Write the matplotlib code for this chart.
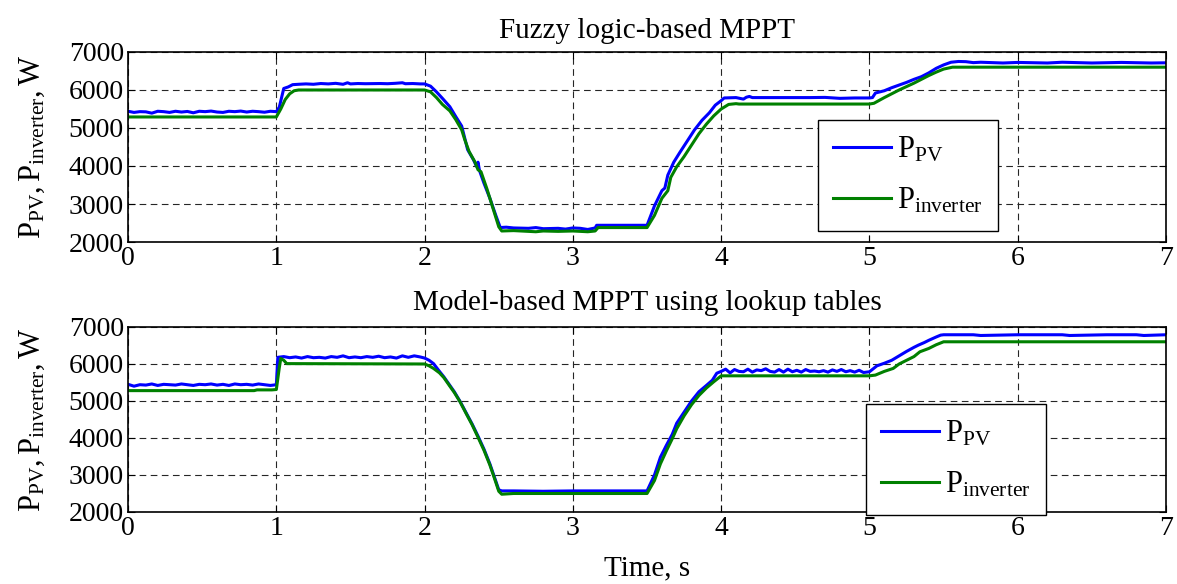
"""Fuzzy vs. model-based MPPT: PV and inverter power traces."""
import matplotlib
matplotlib.use("Agg")
import matplotlib.pyplot as plt

# ---- top panel: fuzzy logic-based MPPT -------------------------------------
t_fz_pv = [0.00, 0.04, 0.08, 0.12, 0.16, 0.20, 0.24, 0.28, 0.32, 0.36, 0.40, 0.44, 0.48,
           0.52, 0.56, 0.60, 0.64, 0.68, 0.72, 0.76, 0.80, 0.84, 0.88, 0.92, 0.96, 1.00,
           1.02, 1.05, 1.08, 1.11, 1.15, 1.20, 1.25, 1.30, 1.35, 1.40, 1.45, 1.48, 1.50,
           1.55, 1.60, 1.70, 1.75, 1.80, 1.85, 1.87, 1.92, 1.97, 2.00,
           2.04, 2.08, 2.12, 2.17, 2.21, 2.25, 2.29, 2.33, 2.35, 2.36, 2.37, 2.40, 2.44,
           2.48, 2.51, 2.55, 2.60, 2.70, 2.75, 2.80, 2.90, 2.95, 3.00, 3.05, 3.10, 3.15,
           3.16, 3.30, 3.50, 3.55, 3.60, 3.62, 3.64, 3.68, 3.72, 3.77, 3.82, 3.87, 3.92,
           3.96, 4.00, 4.02, 4.10, 4.15, 4.17, 4.19, 4.21, 4.40, 4.60, 4.70, 4.80, 4.90,
           5.00, 5.02, 5.04, 5.10, 5.15, 5.20, 5.25, 5.30, 5.35, 5.40, 5.45, 5.50, 5.55,
           5.60, 5.65, 5.70, 5.75, 5.90, 6.00, 6.20, 6.30, 6.50, 6.70, 6.90, 7.00]
p_fz_pv = [5440, 5410, 5430, 5425, 5390, 5440, 5430, 5410, 5440, 5420, 5435, 5400, 5440,
           5430, 5445, 5420, 5410, 5440, 5430, 5445, 5420, 5440, 5430, 5415, 5440, 5430,
           5550, 6040, 6080, 6140, 6150, 6160, 6150, 6170, 6160, 6175, 6150, 6190, 6160,
           6170, 6165, 6170, 6165, 6175, 6190, 6165, 6170, 6160, 6160,
           6100, 5950, 5780, 5560, 5300, 5050, 4430, 4160, 3990, 4100, 3880, 3550, 3150,
           2700, 2380, 2390, 2370, 2360, 2380, 2350, 2360, 2340, 2370, 2360, 2330, 2370,
           2440, 2440, 2440, 2950, 3350, 3420, 3760, 4100, 4350, 4650, 4950, 5200, 5400,
           5600, 5720, 5790, 5800, 5760, 5810, 5830, 5800, 5800, 5800, 5805, 5780, 5790,
           5790, 5800, 5920, 5980, 6060, 6130, 6200, 6280, 6350, 6450, 6570, 6660, 6730,
           6750, 6745, 6720, 6730, 6710, 6725, 6710, 6730, 6710, 6725, 6710, 6715]

t_fz_inv = [0.00, 1.00, 1.03, 1.06, 1.09, 1.12, 1.15, 2.00, 2.04, 2.08, 2.12, 2.17, 2.21,
            2.25, 2.27, 2.30, 2.34, 2.36, 2.38, 2.42, 2.46, 2.50, 2.52, 2.60, 2.70, 2.75,
            2.80, 2.90, 3.00, 3.10, 3.15, 3.17, 3.50, 3.55, 3.60, 3.64, 3.66, 3.70, 3.75,
            3.80, 3.85, 3.90, 3.95, 4.00, 4.05, 4.10, 4.12, 5.00, 5.03, 5.10, 5.20, 5.30,
            5.40, 5.45, 5.50, 5.56, 7.00]
p_fz_inv = [5290, 5290, 5500, 5750, 5900, 5980, 6000, 6000, 5950, 5800, 5620, 5450, 5220,
            4950, 4700, 4380, 4100, 3900, 3850, 3400, 2900, 2400, 2290, 2300, 2280, 2270,
            2290, 2280, 2290, 2270, 2290, 2380, 2380, 2700, 3150, 3350, 3700, 3980, 4250,
            4550, 4850, 5100, 5320, 5500, 5620, 5640, 5630, 5630, 5650, 5800, 6000, 6180,
            6380, 6470, 6550, 6600, 6600]

# ---- bottom panel: model-based MPPT using lookup tables -------------------
t_mb_pv = [0.00, 0.04, 0.08, 0.12, 0.16, 0.20, 0.24, 0.28, 0.32, 0.36, 0.40, 0.44, 0.48,
           0.52, 0.56, 0.60, 0.64, 0.68, 0.72, 0.76, 0.80, 0.84, 0.88, 0.92, 0.96, 1.00,
           1.01, 1.05, 1.09, 1.13, 1.17, 1.21, 1.25, 1.29, 1.33, 1.37, 1.41, 1.45, 1.49,
           1.53, 1.57, 1.61, 1.65, 1.69, 1.73, 1.77, 1.81, 1.85, 1.89, 1.93, 1.97, 2.00,
           2.03, 2.06, 2.10, 2.13, 2.17, 2.20, 2.24, 2.28, 2.32, 2.36, 2.40, 2.44, 2.47,
           2.50, 2.52, 2.60, 2.80, 3.00, 3.20, 3.50, 3.55, 3.59, 3.63, 3.67, 3.70, 3.75,
           3.80, 3.85, 3.90, 3.94, 3.97, 4.00, 4.03, 4.06, 4.09, 4.12, 4.15, 4.18, 4.21,
           4.24, 4.27, 4.30, 4.33, 4.36, 4.39, 4.42, 4.45, 4.48, 4.51, 4.54, 4.57, 4.60,
           4.63, 4.66, 4.69, 4.72, 4.75, 4.78, 4.81, 4.84, 4.87, 4.90, 4.93, 4.96, 5.00,
           5.05, 5.10, 5.15, 5.20, 5.25, 5.30, 5.33, 5.37, 5.40, 5.45, 5.48, 5.50, 5.70,
           5.75, 6.00, 6.30, 6.35, 6.60, 6.80, 6.85, 7.00]
p_mb_pv = [5450, 5400, 5440, 5430, 5460, 5420, 5450, 5440, 5430, 5460, 5440, 5420, 5450,
           5440, 5460, 5430, 5450, 5420, 5460, 5440, 5450, 5430, 5460, 5440, 5420, 5440,
           6180, 6200, 6170, 6190, 6160, 6200, 6170, 6180, 6160, 6200, 6180, 6220, 6170,
           6190, 6170, 6200, 6180, 6210, 6170, 6190, 6160, 6220, 6180, 6220, 6190, 6160,
           6100, 6010, 5800, 5650, 5420, 5250, 4980, 4680, 4380, 4050, 3700, 3300, 2950,
           2600, 2570, 2570, 2560, 2570, 2570, 2570, 3000, 3480, 3800, 4100, 4400, 4700,
           5000, 5250, 5420, 5560, 5750, 5800, 5860, 5760, 5850, 5800, 5790, 5860, 5780,
           5840, 5820, 5870, 5800, 5780, 5850, 5780, 5860, 5790, 5830, 5780, 5850, 5800,
           5810, 5790, 5820, 5780, 5840, 5800, 5850, 5790, 5820, 5780, 5830, 5770, 5790,
           5950, 6020, 6100, 6220, 6340, 6450, 6510, 6580, 6640, 6730, 6780, 6790, 6790,
           6770, 6790, 6790, 6770, 6790, 6790, 6770, 6790]

t_mb_inv = [0.00, 0.85, 0.87, 0.97, 1.00, 1.02, 1.03, 1.05, 1.07, 2.00, 2.03, 2.06, 2.10,
            2.13, 2.17, 2.20, 2.24, 2.28, 2.32, 2.36, 2.40, 2.44, 2.47, 2.50, 2.52, 2.60,
            3.50, 3.55, 3.59, 3.63, 3.67, 3.70, 3.75, 3.80, 3.85, 3.90, 3.95, 4.00, 5.00,
            5.04, 5.10, 5.16, 5.20, 5.30, 5.34, 5.40, 5.45, 5.50, 7.00]
p_mb_inv = [5280, 5280, 5300, 5300, 5310, 5900, 6150, 6100, 6010, 6000, 5950, 5880, 5760,
            5630, 5400, 5230, 4970, 4660, 4360, 4020, 3670, 3270, 2920, 2560, 2480, 2500,
            2500, 2850, 3300, 3650, 3980, 4250, 4600, 4900, 5150, 5350, 5520, 5680, 5680,
            5700, 5800, 5880, 6000, 6200, 6330, 6420, 6520, 6600, 6600]

titles = ["Fuzzy logic-based MPPT", "Model-based MPPT using lookup tables"]
x_ticks = [0, 1, 2, 3, 4, 5, 6, 7]
y_ticks = [2000, 3000, 4000, 5000, 6000, 7000]

fs = 20
plt.rcParams.update({
    "font.family": "serif",
    "font.serif": ["Liberation Serif", "DejaVu Serif"],
    "mathtext.fontset": "custom",
    "mathtext.rm": "Liberation Serif",
    "mathtext.it": "Liberation Serif:italic",
    "font.size": fs,
    "axes.linewidth": 1.2,
})

BLUE = "#0000ff"
GREEN = "#008000"

fig = plt.figure(figsize=(11.77, 5.84), dpi=100)
ax_top = fig.add_axes([0.1088, 0.5856, 0.8819, 0.3254])
ax_bot = fig.add_axes([0.1088, 0.1233, 0.8819, 0.3168])

panels = [
    (ax_top, t_fz_pv, p_fz_pv, t_fz_inv, p_fz_inv, titles[0], 10, (818, 120)),
    (ax_bot, t_mb_pv, p_mb_pv, t_mb_inv, p_mb_inv, titles[1], 12, (866, 404)),
]

for ax, t_pv, p_pv, t_inv, p_inv, title, tpad, leg_px in panels:
    ax.plot(t_pv, p_pv, color=BLUE, lw=2.2, label=r"$\mathrm{P_{PV}}$")
    ax.plot(t_inv, p_inv, color=GREEN, lw=2.2, label=r"$\mathrm{P_{inverter}}$")
    ax.set_xlim(0, 7)
    ax.set_ylim(2000, 7000)
    ax.set_xticks(x_ticks)
    ax.set_yticks(y_ticks)
    ax.tick_params(direction="in", top=True, right=True, length=5, width=0.8,
                   labelsize=fs, pad=3)
    ax.grid(True, color="0.15", linestyle=(0, (6, 4)), linewidth=0.8)
    ax.set_title(title, fontsize=21, pad=tpad)
    ax.set_ylabel(r"$\mathrm{P_{PV}, P_{inverter}, W}$", fontsize=22, labelpad=16)
    ax.legend(loc="upper left",
              bbox_to_anchor=(leg_px[0] / 1177, 1 - leg_px[1] / 584),
              bbox_transform=fig.transFigure, fontsize=22,
              fancybox=False, framealpha=1, edgecolor="black",
              handlelength=1.9, handletextpad=0.2, labelspacing=0.7,
              borderaxespad=0, borderpad=0.5)

ax_bot.set_xlabel("Time, s", fontsize=21, labelpad=10)

fig.savefig("out.png", dpi=100)
